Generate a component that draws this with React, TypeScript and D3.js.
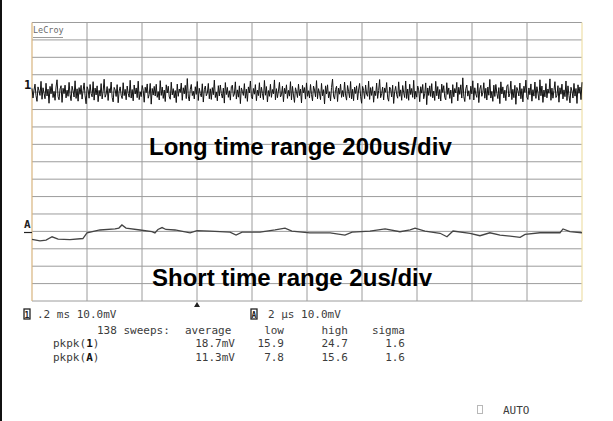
import React from "react";
import * as d3 from "d3";

// Channel 1: 0.2 ms/div, 10 mV/div — ripple samples in mV across 10 divisions
const trace1Values: number[] = [
  2.1, -3.4, 1.2, 4.6, -2.0, -5.3, 3.0, 0.8, -1.9, 6.2, -4.1, 2.5, -0.6, -3.8, 5.1, -2.2, 1.7, -6.4, 3.3, -1.0, 4.8, -3.1, 0.4, -4.7, 2.9,
  7.1, -2.6, -4.4, 1.8, 3.7, -5.9, 2.2, -0.9, 4.0, -3.3, 1.1, -2.4, 5.6, -1.5, -4.9, 3.4, 0.7, -2.8, 6.5, -3.6, 1.9, -5.2, 2.6, -1.3, 3.9,
  -4.0, 0.9, 5.3, -2.1, -6.7, 3.1, 1.4, -3.5, 4.4, -0.8, -2.7, 6.0, -4.6, 2.3, -1.6, 3.6, -5.5, 1.0, -2.3, 4.9, -3.9, 0.5, 7.4, -2.9, -1.2,
  3.2, -4.8, 2.0, -0.4, 5.8, -3.0, -5.6, 2.7, 1.3, -2.5, 4.3, -6.1, 0.6, 3.0, -1.8, -3.7, 5.4, -2.0, 1.6, -4.4, 3.5, -0.7, -2.9, 6.8, -3.4,
  1.5, -5.0, 4.1, -1.1, 2.4, -3.2, 6.3, -4.3, 0.2, -2.6, 3.8, 1.0, -5.8, 2.8, -0.3, 4.7, -3.5, -1.4, 5.0, -6.9, 2.1, -1.7, 3.3, -2.2, 4.5,
  -3.0, 0.3, -4.5, 6.6, -1.9, 2.9, -3.6, 1.2, -5.4, 4.2, -0.5, 3.4, -2.8, -4.1, 5.7, -1.6, 2.0, -3.3, 0.9, -6.0, 4.6, -2.4, 1.8, -0.2, 5.2,
  -4.7, 2.5, -1.0, 3.9, -3.7, 7.8, -2.3, -5.1, 1.6, 4.4, -2.0, 0.5, -3.9, 3.1, -1.3, 6.1, -4.8, 2.2, -0.8, -2.7, 4.8, -5.7, 1.4, 3.5, -2.1,
  -0.6, 5.0, -3.8, 1.9, -4.2, 2.6, -1.5, 6.9, -3.1, 0.1, -5.0, 3.7, -2.2, 4.1, -0.9, -3.4, 2.3, -6.3, 5.5, -1.4, 2.7, -3.0, 0.8, -4.6, 3.2,
  4.0, -2.5, -1.1, 5.9, -4.0, 1.3, -2.9, 3.6, -6.6, 2.4, 0.4, -1.9, 4.9, -3.5, 1.7, -5.3, 3.0, -0.5, 6.4, -2.6, -3.9, 2.1, -1.2, 4.3, -4.9,
  1.1, -2.0, 5.4, -3.3, 2.8, -0.7, -4.3, 6.7, -1.8, 3.2, -5.6, 0.9, -2.4, 4.5, -3.0, 1.5, -1.0, 7.0, -4.4, 2.0, -3.2, 0.6, 5.6, -2.8, -1.5,
  3.4, -5.5, 2.2, -0.9, 4.2, -3.6, 1.0, -2.3, 6.0, -4.5, 3.3, -1.7, -5.9, 2.5, 0.3, -3.1, 4.6, -2.0, 1.8, -6.2, 3.9, -0.4, 2.6, -4.0, 5.3,
  -2.4, 0.8, -3.4, 4.4, -1.4, -5.0, 3.5, 1.2, -2.7, 6.6, -3.8, 2.0, -0.6, -4.3, 5.0, -2.1, 1.4, -6.8, 3.6, -1.1, 4.2, -3.3, 0.2, -5.1, 2.7,
  7.5, -2.2, -4.0, 1.5, 3.4, -5.4, 2.3, -1.2, 4.6, -3.0, 0.9, -2.6, 5.8, -1.7, -4.6, 3.8, 0.4, -3.2, 6.1, -3.9, 1.6, -4.9, 2.9, -0.8, 3.6,
  -4.4, 1.2, 5.0, -2.4, -6.4, 3.3, 1.0, -3.7, 4.1, -1.2, -2.4, 6.3, -4.2, 2.6, -1.9, 3.1, -5.8, 0.7, -2.0, 5.2, -3.6, 0.9, 7.2, -3.2, -0.9,
  2.9, -4.5, 2.4, -0.1, 5.5, -3.3, -5.2, 2.9, 1.6, -2.8, 4.0, -6.5, 0.3, 3.3, -1.5, -3.5, 5.9, -2.4, 1.3, -4.7, 3.8, -0.3, -3.1, 6.4, -3.7,
  1.8, -4.7, 4.5, -1.4, 2.1, -3.0, 6.8, -4.0, 0.5, -2.9, 3.5, 1.3, -5.5, 3.1, -0.6, 4.4, -3.8, -1.0, 5.3, -7.2, 2.4, -1.9, 3.6, -2.5, 4.9,
  -3.3, 0.6, -4.8, 6.2, -2.1, 3.2, -3.9, 1.5, -5.1, 4.6, -0.2, 3.7, -3.1, -4.4, 5.4, -1.3, 2.4, -3.6, 1.2, -6.4, 4.3, -2.7, 2.1, -0.5, 5.6,
  -5.0, 2.8, -1.3, 4.2, -3.4, 8.2, -2.6, -5.4, 1.9, 4.1, -2.3, 0.8, -4.2, 3.4, -1.0, 6.5, -4.5, 2.5, -1.1, -3.0, 5.1, -6.0, 1.7, 3.9, -2.4,
  -0.3, 5.4, -3.5, 2.2, -4.5, 2.9, -1.8, 7.3, -3.4, 0.4, -5.3, 4.0, -2.5, 4.4, -0.6, -3.7, 2.6, -6.6, 5.9, -1.1, 3.0, -3.3, 1.1, -4.9, 3.5,
  4.3, -2.8, -0.8, 6.3, -4.3, 1.6, -3.2, 3.9, -7.0, 2.7, 0.7, -2.2, 5.2, -3.8, 2.0, -5.6, 3.4, -0.2, 6.9, -2.9, -4.2, 2.4, -1.5, 4.7, -5.2,
  1.4, -2.3, 5.8, -3.6, 3.1, -0.4, -4.6, 7.1, -2.1, 3.5, -5.9, 1.2, -2.7, 4.9, -3.3, 1.8, -0.7, 7.6, -4.7, 2.3, -3.5, 0.9, 6.0, -3.1, -1.8,
  3.7, -5.8, 2.5, -1.2, 4.6, -3.9, 1.3, -2.6, 6.4, -4.8, 3.6, -2.0, -6.2, 2.8, 0.6, -3.4, 5.0, -2.3, 2.1, -6.5, 4.2, -0.7, 2.9, -4.3, 5.7,
];

// Averaged trace A: 2 µs/div, 10 mV/div — time (µs) and level (mV)
const traceATimes: number[] = [
  0, 0.29, 0.51, 0.73, 0.95, 1.38, 1.85, 2.0, 2.47, 3.02, 3.16, 3.27, 3.42, 3.93, 4.36, 4.47, 4.58, 4.73,
  4.87, 5.2, 5.75, 6.0, 6.47, 7.2, 7.42, 7.64, 8.29, 8.84, 9.2, 9.45, 10.1, 10.84, 11.38, 11.64, 12.29,
  12.84, 13.38, 13.75, 13.93, 14.29, 14.84, 15.09, 15.31, 15.93, 16.29, 16.65, 17.02, 17.75, 17.93, 18.47,
  19.2, 19.31, 19.56, 20,
];
const traceAValues: number[] = [
  -4.6, -5.5, -5.0, -3.1, -4.4, -4.7, -4.1, -0.9, 0.8, 1.4, 1.9, 3.7, 1.9, 0.8, -0.2, -0.9, 1.1, 2.2,
  1.1, 0.8, -0.8, 0.4, 0.2, -0.4, -2.1, -0.4, -0.4, 0.8, 1.9, 0.2, -0.9, -0.9, -2.1, -0.4, 0.2,
  1.4, -0.2, 0.8, 1.8, 0.2, -1.1, -3.1, 0.2, -1.1, -2.5, -0.8, -2.1, -3.4, -1.7, -0.8,
  -0.8, 1.4, -0.2, -0.8,
];

// Measurement readout table
const statHeaders: string[] = ["average", "low", "high", "sigma"];
const statRows: { label: string; ch: string; values: string[] }[] = [
  { label: "pkpk(", ch: "1", values: ["18.7mV", "15.9", "24.7", "1.6"] },
  { label: "pkpk(", ch: "A", values: ["11.3mV", "7.8", "15.6", "1.6"] },
];
const sweepCount = "138 sweeps:";
const ch1Setting = ".2 ms 10.0mV";
const chASetting = "2 µs 10.0mV";

const titleLong = "Long time range 200us/div";
const titleShort = "Short time range 2us/div";

const W = 613;
const H = 421;
const gl = 32, gr = 582, gt = 22.5, gb = 301;
const xDivs = 10, yDivs = 16;
const divH = (gb - gt) / yDivs;
const mid = gt + 8 * divH;

const mono = "'DejaVu Sans Mono', monospace";
const textCol = "#3c3c3c";
const sans = "'Liberation Sans', Arial, sans-serif";

export default function App() {
  const xIdx = d3.scaleLinear().domain([0, trace1Values.length - 1]).range([gl, gr]);
  const y1 = d3.scaleLinear().domain([-40, 40]).range([mid, gt]);
  const xA = d3.scaleLinear().domain([0, 20]).range([gl, gr]);
  const yA = d3.scaleLinear().domain([-40, 40]).range([gb, mid]);

  const line1 = d3.line<number>().x((_, i) => xIdx(i)).y((v) => y1(v))(trace1Values) || "";
  const lineA =
    d3
      .line<number>()
      .x((_, i) => xA(traceATimes[i]))
      .y((v) => yA(v))(traceAValues) || "";

  const vLines = d3.range(1, xDivs).map((i) => gl + ((gr - gl) * i) / xDivs);
  const hLines = d3.range(1, yDivs).map((i) => gt + divH * i);

  // column right edges for the readout table
  const colEnds = [235, 284, 348, 405];
  const rowBase = [347, 361];

  return (
    <svg
      width={W}
      height={H}
      style={{ position: "absolute", left: 0, top: 0, display: "block", background: "#fff" }}
    >
      <rect x={0} y={0} width={W} height={H} fill="#fff" />
      <rect x={0} y={0} width={2} height={H} fill="#111" />

      {/* graticule */}
      <g stroke="#9c9c9c" strokeWidth={1}>
        {vLines.map((x, i) => (
          <line key={"v" + i} x1={x} x2={x} y1={gt} y2={gb} />
        ))}
        {hLines.map((y, i) => (
          <line key={"h" + i} x1={gl} x2={gr} y1={y} y2={y} />
        ))}
        <line x1={gl} x2={gr} y1={gt} y2={gt} />
        <line x1={gl} x2={gr} y1={gb} y2={gb} />
      </g>
      <line x1={gl} x2={gl} y1={gt} y2={gb} stroke="#d8b47e" strokeWidth={1.2} />
      <line x1={gr} x2={gr} y1={gt} y2={gb} stroke="#efe0a8" strokeWidth={1.2} />

      <text x={33} y={33} fontFamily={mono} fontSize={8.5} fill="#6a6a6a">
        LeCroy
      </text>
      <line x1={33} x2={63} y1={37.5} y2={37.5} stroke="#9a9a9a" strokeWidth={1} />

      {/* traces */}
      <path d={line1} fill="none" stroke="#111" strokeWidth={1} />
      <path d={lineA} fill="none" stroke="#444" strokeWidth={1.3} />

      {/* ground markers */}
      <text x={24} y={89} fontFamily={mono} fontWeight="bold" fontSize={12} fill="#111">
        1
      </text>
      <text x={24} y={228} fontFamily={mono} fontWeight="bold" fontSize={11} fill="#222">
        A
      </text>
      <line x1={24} x2={32} y1={232.5} y2={232.5} stroke="#222" strokeWidth={1.2} />

      {/* trigger position */}
      <path d={`M${xA(6)},${gb + 1} l-3,5 h6 z`} fill="#222" />

      {/* annotations */}
      <text x={149} y={155} fontFamily={sans} fontWeight="bold" fontSize={24} fill="#000">
        {titleLong}
      </text>
      <text x={152} y={286} fontFamily={sans} fontWeight="bold" fontSize={24} fill="#000">
        {titleShort}
      </text>

      {/* readout */}
      <g fontFamily={mono} fontSize={11} fill={textCol}>
        <rect x={24} y={309} width={6} height={10} fill="#fff" stroke="#222" strokeWidth={1.3} />
        <text x={27} y={318} fontSize={8} fontWeight="bold" textAnchor="middle" fill="#222">1</text>
        <text x={37} y={318}>{ch1Setting}</text>
        <rect x={251} y={309} width={6} height={10} fill="#fff" stroke="#222" strokeWidth={1.3} />
        <text x={254} y={318} fontSize={8} fontWeight="bold" textAnchor="middle" fill="#222">A</text>
        <text x={268} y={318}>{chASetting}</text>

        <text x={97} y={334}>{sweepCount}</text>
        <text x={185} y={334}>{statHeaders[0]}</text>
        {statHeaders.slice(1).map((h, i) => (
          <text key={h} x={colEnds[i + 1]} y={334} textAnchor="end">
            {h}
          </text>
        ))}

        {statRows.map((r, ri) => (
          <g key={ri}>
            <text x={53} y={rowBase[ri]}>
              {r.label}
              <tspan fontWeight="bold" fill="#111">{r.ch}</tspan>
              {")"}
            </text>
            {r.values.map((v, ci) => (
              <text key={ci} x={colEnds[ci]} y={rowBase[ri]} textAnchor="end">
                {v}
              </text>
            ))}
          </g>
        ))}

        <rect x={477.5} y={405.5} width={5} height={8} fill="none" stroke="#b8b8b8" strokeWidth={1} />
        <text x={503} y={414}>AUTO</text>
      </g>
    </svg>
  );
}
